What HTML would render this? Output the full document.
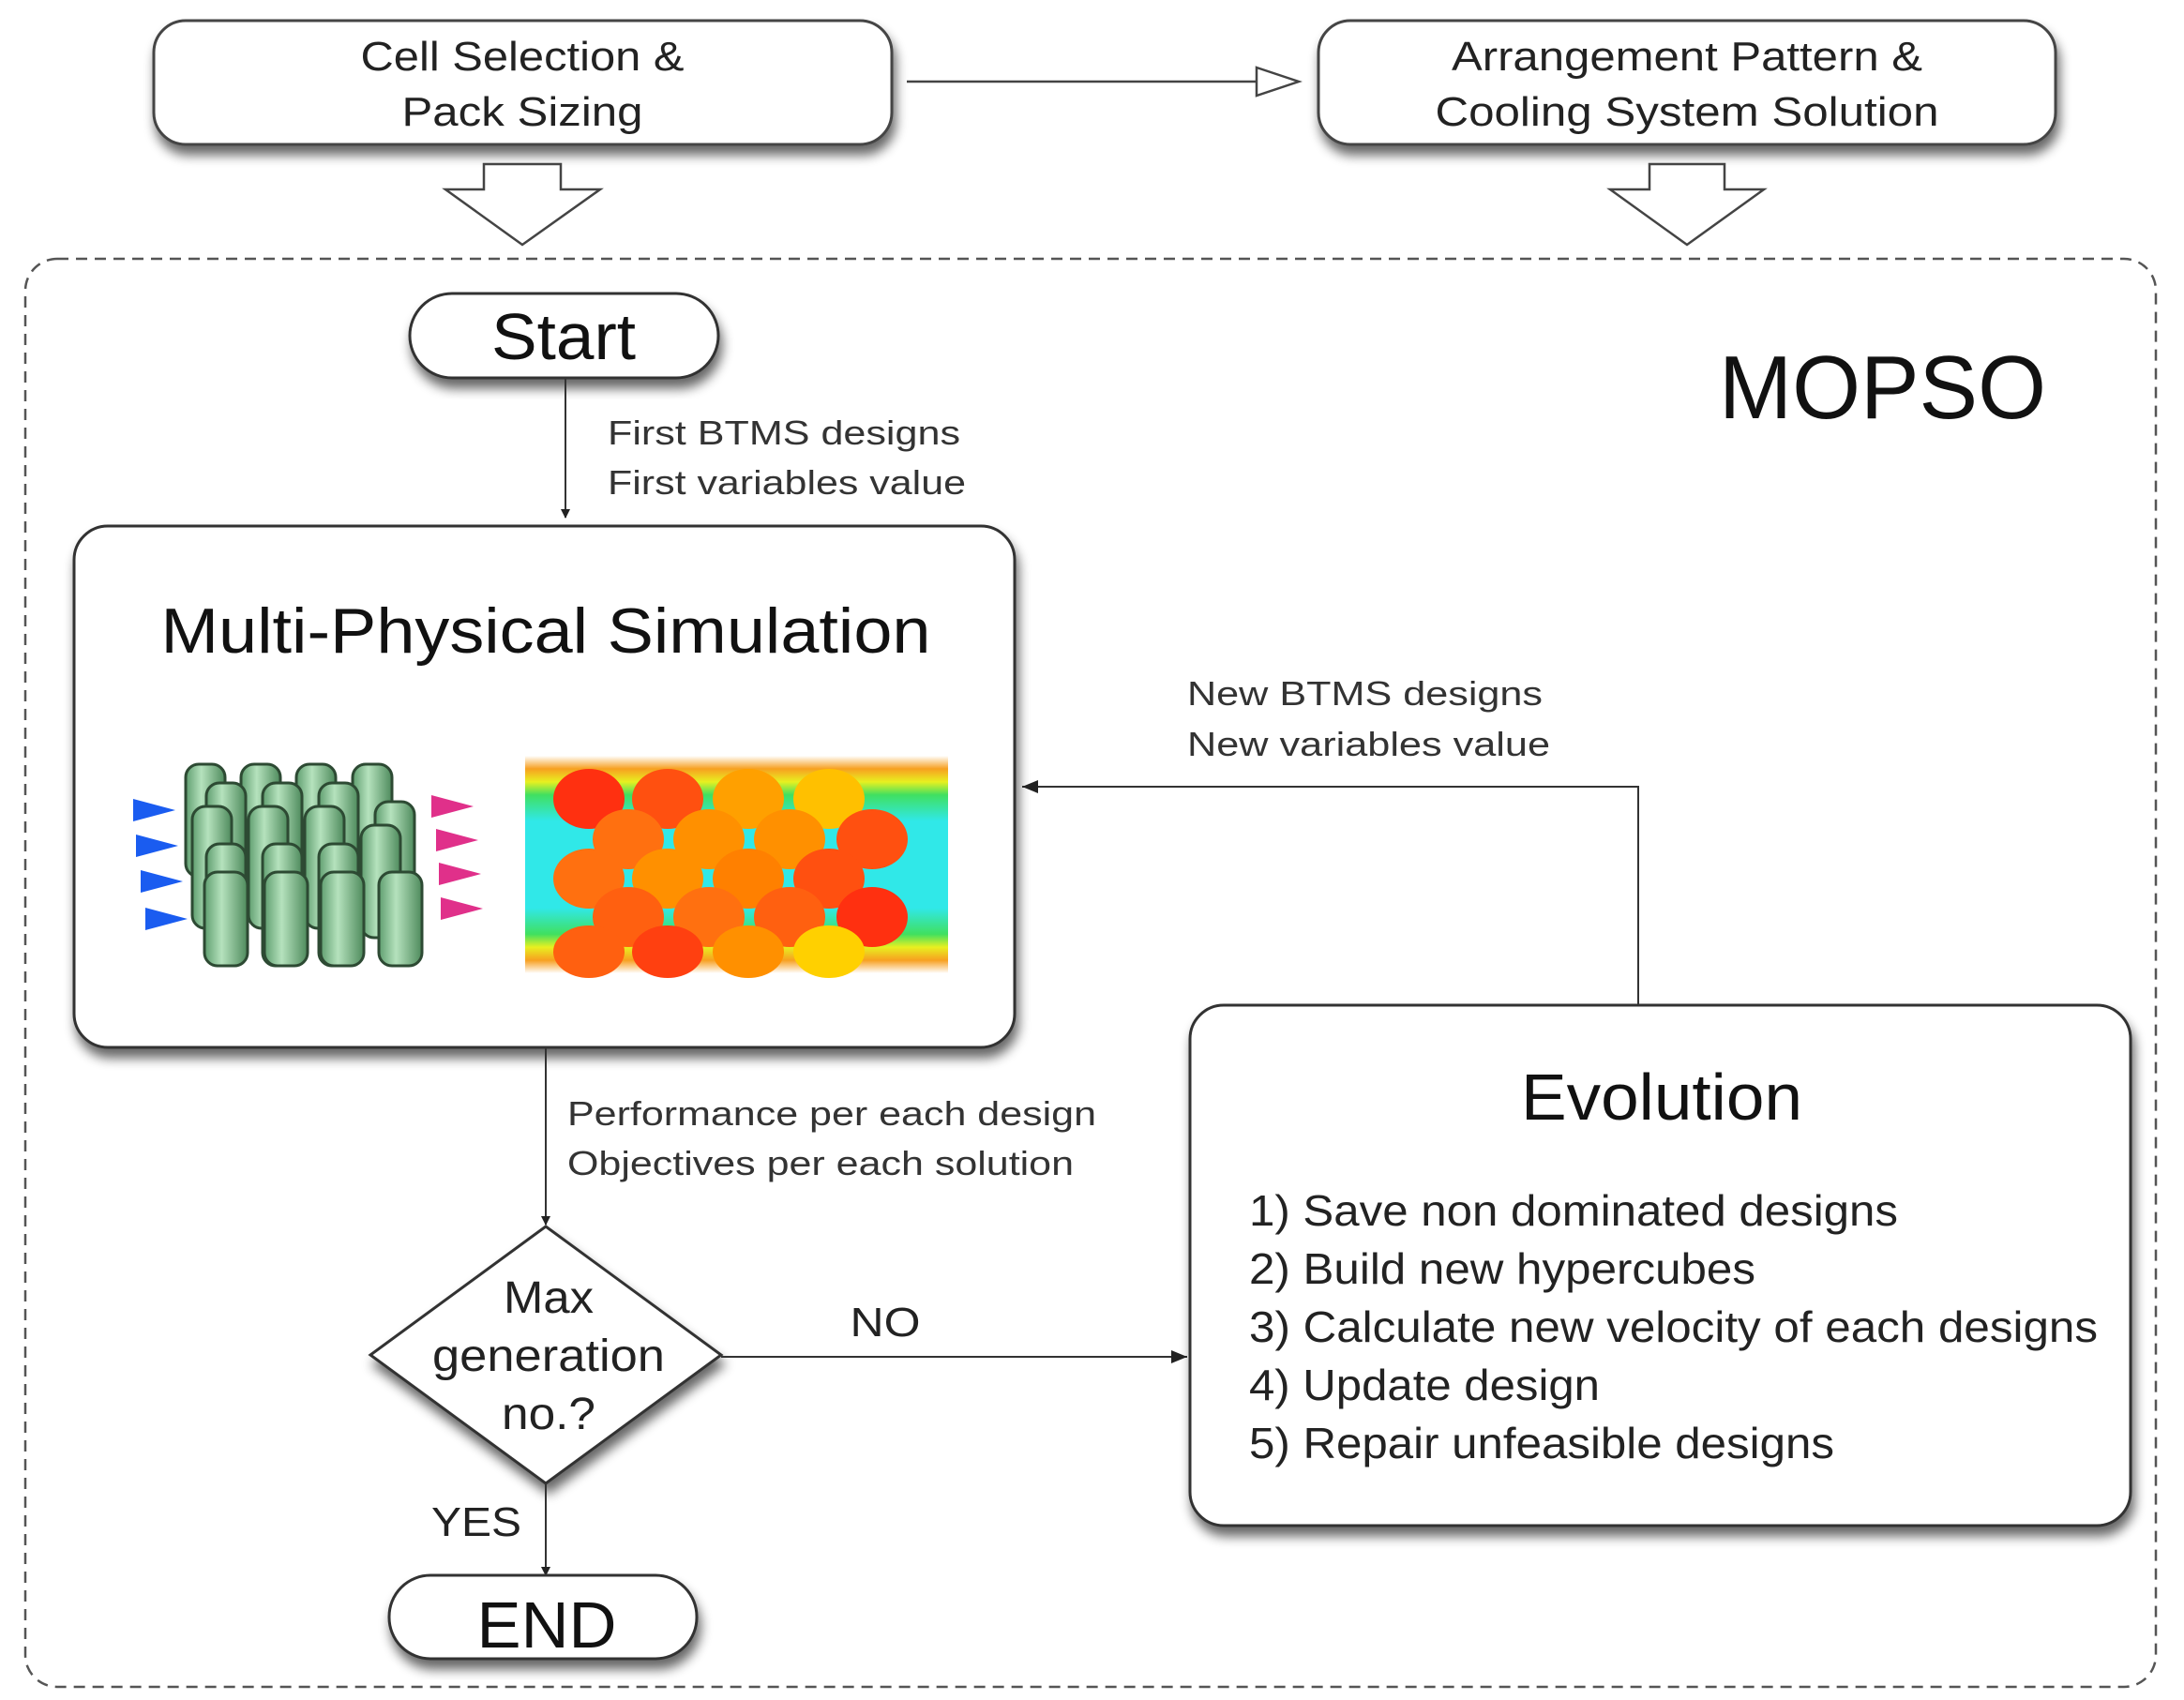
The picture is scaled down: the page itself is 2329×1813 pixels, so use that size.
<!DOCTYPE html>
<html><head><meta charset="utf-8"><style>html,body{margin:0;padding:0;background:#fff}svg{display:block}</style></head>
<body>
<svg width="2329" height="1813" viewBox="0 0 2329 1813" xmlns="http://www.w3.org/2000/svg" font-family="Liberation Sans, sans-serif">
<defs>
<filter id="sh" x="-10%" y="-10%" width="120%" height="135%">
<feGaussianBlur in="SourceAlpha" stdDeviation="6"/><feOffset dx="3" dy="10" result="b"/>
<feComponentTransfer><feFuncA type="linear" slope="0.6"/></feComponentTransfer>
<feMerge><feMergeNode/><feMergeNode in="SourceGraphic"/></feMerge>
</filter>
<linearGradient id="cyl" x1="0" x2="1"><stop offset="0" stop-color="#5f9e6f"/><stop offset="0.4" stop-color="#b5e2bd"/><stop offset="1" stop-color="#4e8a5c"/></linearGradient>
<linearGradient id="cfd" x1="0" y1="0" x2="0" y2="1">
<stop offset="0" stop-color="#fff"/><stop offset="0.06" stop-color="#f7a020"/><stop offset="0.12" stop-color="#e8f020"/><stop offset="0.18" stop-color="#40e060"/><stop offset="0.3" stop-color="#30e8e8"/><stop offset="0.7" stop-color="#30e8e8"/><stop offset="0.82" stop-color="#40e060"/><stop offset="0.88" stop-color="#e8f020"/><stop offset="0.94" stop-color="#f7a020"/><stop offset="1" stop-color="#fff"/></linearGradient>
<marker id="ah" markerWidth="10" markerHeight="10" refX="9" refY="5" orient="auto" markerUnits="userSpaceOnUse"><path d="M0,0 L10,5 L0,10 z" fill="#222"/></marker>
<marker id="ahb" markerWidth="18" markerHeight="14" refX="17" refY="7" orient="auto" markerUnits="userSpaceOnUse"><path d="M0,0 L17,7 L0,14 z" fill="#222"/></marker>
</defs>

<rect x="27" y="276" width="2272" height="1523" rx="34" fill="none" stroke="#555" stroke-width="2.5" stroke-dasharray="12,8"/>

<rect x="164" y="22" width="787" height="132" rx="34" fill="#fff" stroke="#444" stroke-width="3" filter="url(#sh)"/>
<text x="557" y="75" font-size="44" text-anchor="middle" fill="#222" textLength="345" lengthAdjust="spacingAndGlyphs">Cell Selection &amp;</text>
<text x="557" y="134" font-size="44" text-anchor="middle" fill="#222" textLength="257" lengthAdjust="spacingAndGlyphs">Pack Sizing</text>
<rect x="1406" y="22" width="786" height="132" rx="34" fill="#fff" stroke="#444" stroke-width="3" filter="url(#sh)"/>
<text x="1799" y="75" font-size="44" text-anchor="middle" fill="#222" textLength="502" lengthAdjust="spacingAndGlyphs">Arrangement Pattern &amp;</text>
<text x="1799" y="134" font-size="44" text-anchor="middle" fill="#222" textLength="537" lengthAdjust="spacingAndGlyphs">Cooling System Solution</text>

<line x1="967" y1="87" x2="1340" y2="87" stroke="#444" stroke-width="2.5"/>
<path d="M1340,72 L1385,87 L1340,102 z" fill="#fff" stroke="#444" stroke-width="2.5"/>

<path d="M516,175 L598,175 L598,202 L640,202 L557,261 L475,202 L516,202 z" fill="#fff" stroke="#444" stroke-width="2.5"/>
<path d="M1759,175 L1839,175 L1839,202 L1881,202 L1799,261 L1717,202 L1759,202 z" fill="#fff" stroke="#444" stroke-width="2.5"/>

<rect x="437" y="313" width="329" height="90" rx="45" fill="#fff" stroke="#333" stroke-width="3" filter="url(#sh)"/>
<text x="601" y="383" font-size="70" text-anchor="middle" fill="#111" textLength="154" lengthAdjust="spacingAndGlyphs">Start</text>

<text x="1833" y="446" font-size="96" fill="#111" textLength="349" lengthAdjust="spacingAndGlyphs">MOPSO</text>

<line x1="603" y1="403" x2="603" y2="552" stroke="#333" stroke-width="2" marker-end="url(#ah)"/>
<text x="648" y="474" font-size="36" fill="#333" textLength="376" lengthAdjust="spacingAndGlyphs">First BTMS designs</text>
<text x="648" y="527" font-size="36" fill="#333" textLength="382" lengthAdjust="spacingAndGlyphs">First variables value</text>

<rect x="79" y="561" width="1003" height="556" rx="36" fill="#fff" stroke="#333" stroke-width="3" filter="url(#sh)"/>
<text x="582" y="696" font-size="68" text-anchor="middle" fill="#111" textLength="821" lengthAdjust="spacingAndGlyphs">Multi-Physical Simulation</text>

<g>
<g fill="#1a5cf0"><path d="M142,852 l45,12 l-45,12z"/><path d="M145,890 l45,12 l-45,12z"/><path d="M150,928 l45,12 l-45,12z"/><path d="M155,968 l45,12 l-45,12z"/></g>
<g fill="#e0308a"><path d="M460,848 l45,12 l-45,12z"/><path d="M465,884 l45,12 l-45,12z"/><path d="M468,920 l45,12 l-45,12z"/><path d="M470,957 l45,12 l-45,12z"/></g>
<g stroke="#2d4a33" stroke-width="3" fill="url(#cyl)">
<rect x="198" y="815" width="42" height="120" rx="14"/><rect x="257" y="815" width="42" height="120" rx="14"/><rect x="316" y="815" width="42" height="120" rx="14"/><rect x="376" y="815" width="42" height="120" rx="14"/>
<rect x="220" y="835" width="42" height="120" rx="14"/><rect x="280" y="835" width="42" height="120" rx="14"/><rect x="340" y="835" width="42" height="120" rx="14"/><rect x="400" y="855" width="42" height="120" rx="14"/>
<rect x="205" y="860" width="42" height="130" rx="14"/><rect x="265" y="860" width="42" height="130" rx="14"/><rect x="325" y="860" width="42" height="130" rx="14"/><rect x="385" y="880" width="42" height="120" rx="14"/>
<rect x="220" y="900" width="42" height="130" rx="14"/><rect x="280" y="900" width="42" height="130" rx="14"/><rect x="340" y="900" width="42" height="130" rx="14"/>
<rect x="218" y="930" width="46" height="100" rx="14"/><rect x="282" y="930" width="46" height="100" rx="14"/><rect x="342" y="930" width="46" height="100" rx="14"/><rect x="404" y="930" width="46" height="100" rx="14"/>
</g>
</g>

<g>
<rect x="560" y="806" width="451" height="232" fill="url(#cfd)"/>
<g fill="#ff5010">
<ellipse cx="628" cy="852" rx="38" ry="32" fill="#ff3010"/><ellipse cx="712" cy="852" rx="38" ry="32"/><ellipse cx="798" cy="852" rx="38" ry="32" fill="#ffa000"/><ellipse cx="884" cy="852" rx="38" ry="32" fill="#ffc000"/>
<ellipse cx="670" cy="895" rx="38" ry="32" fill="#ff7010"/><ellipse cx="756" cy="895" rx="38" ry="32" fill="#ff9000"/><ellipse cx="842" cy="895" rx="38" ry="32" fill="#ff9000"/><ellipse cx="930" cy="895" rx="38" ry="32"/>
<ellipse cx="628" cy="937" rx="38" ry="32" fill="#ff7010"/><ellipse cx="712" cy="937" rx="38" ry="32" fill="#ff9000"/><ellipse cx="798" cy="937" rx="38" ry="32" fill="#ff8000"/><ellipse cx="884" cy="937" rx="38" ry="32"/>
<ellipse cx="670" cy="978" rx="38" ry="32" fill="#ff6010"/><ellipse cx="756" cy="978" rx="38" ry="32" fill="#ff7010"/><ellipse cx="842" cy="978" rx="38" ry="32" fill="#ff6010"/><ellipse cx="930" cy="978" rx="38" ry="32" fill="#ff3010"/>
<ellipse cx="628" cy="1015" rx="38" ry="28" fill="#ff6010"/><ellipse cx="712" cy="1015" rx="38" ry="28" fill="#ff4010"/><ellipse cx="798" cy="1015" rx="38" ry="28" fill="#ff9000"/><ellipse cx="884" cy="1015" rx="38" ry="28" fill="#ffd000"/>
</g>
</g>

<line x1="582" y1="1117" x2="582" y2="1306" stroke="#333" stroke-width="2" marker-end="url(#ah)"/>
<text x="605" y="1200" font-size="36" fill="#333" textLength="564" lengthAdjust="spacingAndGlyphs">Performance per each design</text>
<text x="605" y="1253" font-size="36" fill="#333" textLength="540" lengthAdjust="spacingAndGlyphs">Objectives per each solution</text>

<path d="M582,1308 L769,1445 L582,1582 L395,1445 z" fill="#fff" stroke="#333" stroke-width="3" filter="url(#sh)"/>
<text x="585" y="1400" font-size="48" text-anchor="middle" fill="#222" textLength="96" lengthAdjust="spacingAndGlyphs">Max</text>
<text x="585" y="1462" font-size="48" text-anchor="middle" fill="#222" textLength="248" lengthAdjust="spacingAndGlyphs">generation</text>
<text x="585" y="1524" font-size="48" text-anchor="middle" fill="#222" textLength="100" lengthAdjust="spacingAndGlyphs">no.?</text>

<line x1="769" y1="1447" x2="1266" y2="1447" stroke="#333" stroke-width="2" marker-end="url(#ahb)"/>
<text x="944" y="1425" font-size="44" text-anchor="middle" fill="#222" textLength="75" lengthAdjust="spacingAndGlyphs">NO</text>

<line x1="582" y1="1582" x2="582" y2="1680" stroke="#333" stroke-width="2" marker-end="url(#ah)"/>
<text x="508" y="1638" font-size="44" text-anchor="middle" fill="#222" textLength="96" lengthAdjust="spacingAndGlyphs">YES</text>

<rect x="415" y="1680" width="328" height="89" rx="44" fill="#fff" stroke="#333" stroke-width="3" filter="url(#sh)"/>
<text x="583" y="1757" font-size="70" text-anchor="middle" fill="#111" textLength="149" lengthAdjust="spacingAndGlyphs">END</text>

<polyline points="1747,1072 1747,839 1090,839" fill="none" stroke="#333" stroke-width="2" marker-end="url(#ahb)"/>
<text x="1266" y="752" font-size="36" fill="#333" textLength="379" lengthAdjust="spacingAndGlyphs">New BTMS designs</text>
<text x="1266" y="806" font-size="36" fill="#333" textLength="387" lengthAdjust="spacingAndGlyphs">New variables value</text>

<rect x="1269" y="1072" width="1003" height="555" rx="36" fill="#fff" stroke="#333" stroke-width="3" filter="url(#sh)"/>
<text x="1772" y="1194" font-size="70" text-anchor="middle" fill="#111" textLength="300" lengthAdjust="spacingAndGlyphs">Evolution</text>
<g font-size="46" fill="#222">
<text x="1332" y="1307" textLength="692" lengthAdjust="spacingAndGlyphs">1) Save non dominated designs</text>
<text x="1332" y="1369" textLength="540" lengthAdjust="spacingAndGlyphs">2) Build new hypercubes</text>
<text x="1332" y="1431" textLength="905" lengthAdjust="spacingAndGlyphs">3) Calculate new velocity of each designs</text>
<text x="1332" y="1493" textLength="374" lengthAdjust="spacingAndGlyphs">4) Update design</text>
<text x="1332" y="1555" textLength="624" lengthAdjust="spacingAndGlyphs">5) Repair unfeasible designs</text>
</g>
</svg>
</body></html>
